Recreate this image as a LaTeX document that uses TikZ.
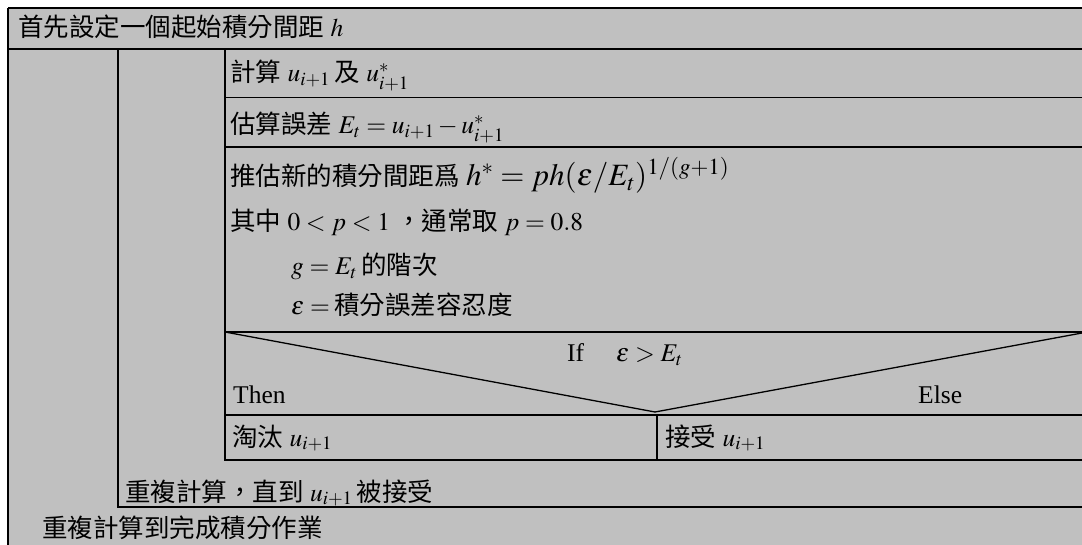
\documentclass[tikz,border=0pt]{standalone}
\usepackage{mathptmx}
\usepackage[no-math]{fontspec}
\setmainfont{Liberation Serif}
\newfontfamily\cjk{Noto Sans CJK TC}
\newcommand{\zh}[1]{{\cjk #1}}
\definecolor{bg}{HTML}{C0C0C0}
\tikzset{
  frame/.style={line width=1.6pt},
  diag/.style={line width=1.3pt},
  txt/.style={anchor=base west, inner sep=0pt, font=\fontsize{25.5}{30}\selectfont}
}
\begin{document}
\begin{tikzpicture}[x=1pt,y=-1pt]
\useasboundingbox (0,0) rectangle (1082,545);
\fill[bg] (8,8) rectangle (1082,545);
% frame lines
\draw[frame] (8,8) -- (1082,8);
\draw[frame] (8,8) -- (8,545);
\draw[frame] (8,49) -- (1082,49);
\draw[frame] (118,49) -- (118,507) -- (1082,507);
\draw[frame] (225,49) -- (225,460) -- (1082,460);
\draw[frame] (225,97.5) -- (1082,97.5);
\draw[frame] (225,147) -- (1082,147);
\draw[frame] (225,332) -- (1082,332);
\draw[frame] (225,415) -- (1082,415);
\draw[frame] (657,415) -- (657,460);
% decision triangle
\coordinate (tl) at (225,332);
\coordinate (apex) at (655,412);
\coordinate (tr) at (1082,333);
\draw[diag] (tl) -- (apex) -- (tr);
% texts
\node[txt] (t0) at (18,37) {\zh{首先設定一個起始積分間距} $h$};
\node[txt] (t1) at (230,82) {\zh{計算} $u_{i+1}$\,\zh{及} $u_{i+1}^{*}$};
\node[txt] (t2) at (230,134) {\zh{估算誤差} $E_t=u_{i+1}-u_{i+1}^{*}$};
\node[txt] (t3) at (230,186) {\zh{推估新的積分間距爲} {\fontsize{31}{36}\selectfont$h^{*}=ph(\varepsilon/E_t)^{1/(g+1)}$}};
\node[txt] (t4) at (230,231) {\zh{其中} $0<p<1$ \zh{，通常取} $p=0.8$};
\node[txt] (t5) at (291,275) {$g=E_t$\,\zh{的階次}};
\node[txt] (t6) at (291,315) {$\varepsilon=$\,\zh{積分誤差容忍度}};
\node[txt] (cond) at (567,362) {If\quad\ $\varepsilon>E_t$};
\node[txt] (then) at (233,403) {Then};
\node[txt] (else) at (918,403) {Else};
\node[txt] (rej) at (232,446) {\zh{淘汰} $u_{i+1}$};
\node[txt] (acc) at (665,446) {\zh{接受} $u_{i+1}$};
\node[txt] (rep1) at (125,501) {\zh{重複計算，直到} $u_{i+1}$\,\zh{被接受}};
\node[txt] (rep2) at (42,537) {\zh{重複計算到完成積分作業}};
\end{tikzpicture}
\end{document}
